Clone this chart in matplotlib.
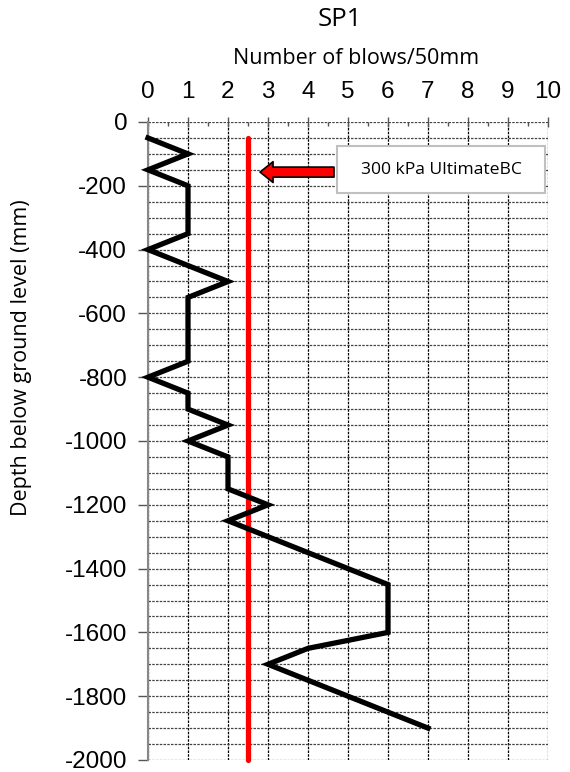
import matplotlib
matplotlib.use("Agg")
import matplotlib.pyplot as plt
from matplotlib.ticker import MultipleLocator
from matplotlib.patches import Rectangle

depth = [-50, -100, -150, -200, -250, -300, -350, -400, -450, -500, -550, -600,
         -650, -700, -750, -800, -850, -900, -950, -1000, -1050, -1100, -1150,
         -1200, -1250, -1300, -1350, -1400, -1450, -1500, -1550, -1600, -1650,
         -1700, -1750, -1800, -1850, -1900]
blows = [0, 1, 0, 1, 1, 1, 1, 0, 1, 2, 1, 1,
         1, 1, 1, 0, 1, 1, 2, 1, 2, 2, 2,
         3, 2, 3, 4, 5, 6, 6, 6, 6, 4,
         3, 4, 5, 6, 7]
bc_x = [2.5, 2.5]
bc_depth = [-50, -2000]
label_text = "300 kPa UltimateBC"
x_ticks = list(range(0, 11))
y_ticks = list(range(0, -2001, -200))

fig = plt.figure(figsize=(5.7, 7.72), dpi=100)
ax = fig.add_axes([148/570, 1-760/772, 400/570, (760-122)/772])

ax.set_xlim(0, 10)
ax.set_ylim(-2000, 0)

ax.xaxis.set_major_locator(MultipleLocator(1))
ax.xaxis.set_minor_locator(MultipleLocator(0.5))
ax.yaxis.set_major_locator(MultipleLocator(200))
ax.yaxis.set_minor_locator(MultipleLocator(50))

ax.xaxis.tick_top()
ax.set_xticks(x_ticks)
ax.set_yticks(y_ticks)
ax.set_xticklabels([str(t) for t in x_ticks], fontfamily="Liberation Sans", fontsize=17.5)
ax.set_yticklabels([str(t) for t in y_ticks], fontfamily="Liberation Sans", fontsize=17.5)

ax.tick_params(axis="x", which="major", direction="inout", length=7, width=1, color="#555555", pad=0)
ax.tick_params(axis="x", which="minor", direction="in", length=3, width=1, color="#555555", top=True, bottom=False)
ax.tick_params(axis="y", which="major", direction="out", length=7, width=1, color="#555555", pad=8)
ax.tick_params(axis="y", which="minor", length=0)
for lbl in ax.get_xticklabels():
    lbl.set_va("center")
    lbl.set_y(1.0 + 25/638)

ax.grid(True, axis="x", which="major", color="black", linestyle=(0, (2, 1)), linewidth=0.9)
ax.grid(True, axis="y", which="both", color="#444444", linestyle=(0, (2, 1)), linewidth=0.9)
ax.set_axisbelow(True)

for s in ["top", "right", "bottom"]:
    ax.spines[s].set_visible(False)
ax.spines["left"].set_color("#888888")
ax.spines["left"].set_linewidth(1.5)

ax.plot(bc_x, bc_depth, color="#ff0000", linewidth=3.8, solid_capstyle="round", zorder=3, clip_on=False)
ax.plot(blows, depth, color="black", linewidth=3.8, solid_joinstyle="miter", zorder=4, clip_on=False)

fig.text(356/570, 1-59/772, "Number of blows/50mm", fontfamily="Open Sans", fontsize=15.5,
         ha="center", va="center")
fig.text(340/570, 1-19/772, "SP1", fontfamily="Open Sans", fontsize=18.5, ha="center", va="center")
fig.text(22/570, 1-358/772, "Depth below ground level (mm)", fontfamily="Open Sans",
         fontsize=15.5, rotation=90, ha="center", va="center")

# annotation box and arrow
ax.add_patch(Rectangle((4.73, -222), 5.2, 147, facecolor="white", edgecolor="#c0c0c0",
                       linewidth=1.5, zorder=5))
ax.text(7.33, -149, label_text, fontfamily="Open Sans", fontsize=12.6, ha="center", va="center", zorder=6)
ax.annotate("", xy=(2.8, -157), xytext=(4.65, -157),
            arrowprops=dict(arrowstyle="simple,head_length=0.47,head_width=0.75,tail_width=0.36",
                            mutation_scale=20, fc="#ff0000", ec="black", lw=1.2,
                            shrinkA=0, shrinkB=0), zorder=6)

fig.savefig("out.png", dpi=100)
